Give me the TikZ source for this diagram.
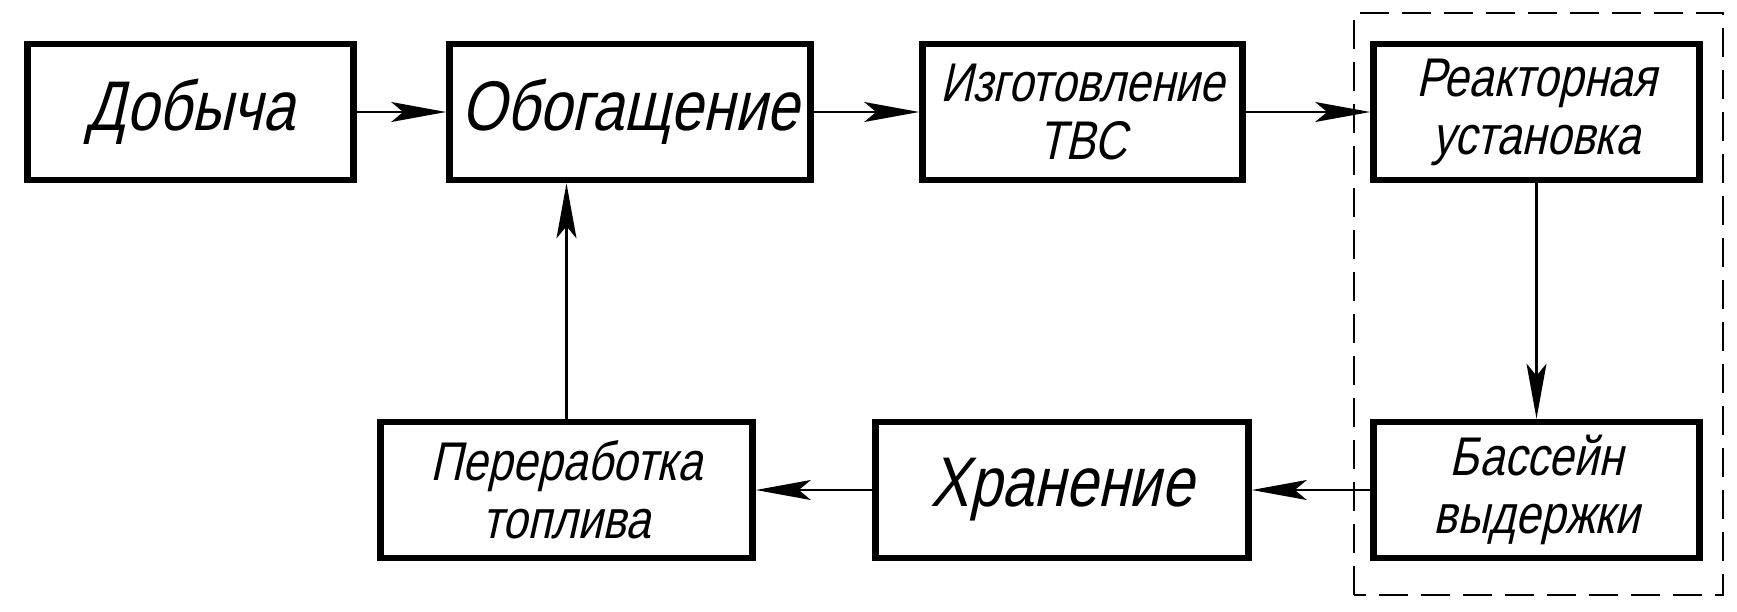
\documentclass[tikz,border=0pt]{standalone}
\usepackage{fontspec}
\newfontfamily\gostfont{Liberation Sans}[FakeSlant=0.22,FakeStretch=0.82]
\usetikzlibrary{arrows.meta,positioning}

\begin{document}
\begin{tikzpicture}[x=1cm,y=1cm,
    stage/.style={draw,line width=1.9pt,minimum height=1.36cm,inner sep=0pt,align=center,
      font=\gostfont\fontsize{15.5}{16.5}\selectfont},
    bigtext/.style={font=\gostfont\fontsize{20}{24}\selectfont},
    flow/.style={-{Stealth[length=5.5mm,width=2mm,inset=1.2mm]},line width=.6pt}]
        \useasboundingbox (0,0) rectangle (17.37,6.11);

        % upper row
        \node[stage,bigtext,minimum width=3.26cm] (dob) at (1.905,4.99) {Добыча};
        \node[stage,bigtext,minimum width=3.61cm] (obog) at (6.30,4.99) {Обогащение};
        \node[stage,minimum width=3.20cm] (izg) at (10.825,4.99) {Изготовление\\ТВС};
        \node[stage,minimum width=3.26cm] (reak) at (15.365,4.99) {Реакторная\\установка};

        % lower row
        \node[stage,minimum width=3.26cm] (bass) at (15.365,1.21) {Бассейн\\выдержки};
        \node[stage,bigtext,minimum width=3.73cm] (hran) at (10.62,1.21) {Хранение};
        \node[stage,minimum width=3.72cm] (pere) at (5.665,1.21) {Переработка\\топлива};

        \draw[dash pattern=on 2.9mm off 1.3mm,line width=.6pt] (13.54,.16) rectangle (17.23,5.98);

        \draw[flow] (dob) -- (obog);
        \draw[flow] (obog) -- (izg);
        \draw[flow] (izg) -- (reak);
        \draw[flow] (reak) -- (bass);
        \draw[flow] (bass) -- (hran);
        \draw[flow] (hran) -- (pere);
        \draw[flow] (pere.north) -- (pere.north |- obog.south);
      \end{tikzpicture}
\end{document}
